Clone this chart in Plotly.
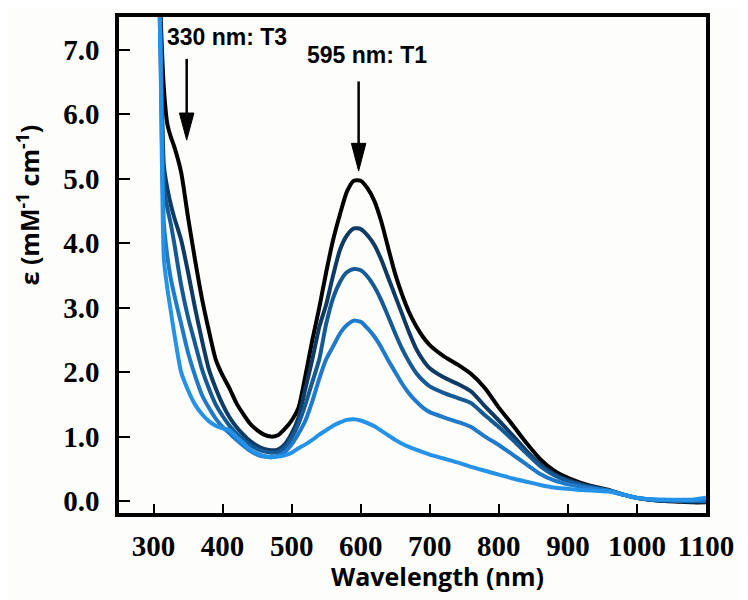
import plotly.graph_objects as go

# ---- data ----
wavelength = [305, 310, 315, 320, 325, 330, 340, 350, 360, 370, 380, 390, 400, 410, 420,
              430, 440, 450, 460, 470, 480, 490, 500, 510, 520, 530, 540, 550, 560, 570,
              580, 590, 600, 610, 620, 630, 640, 650, 660, 670, 680, 690, 700, 720, 740,
              760, 780, 800, 820, 840, 860, 880, 900, 920, 940, 960, 980, 1000, 1020, 1040,
              1060, 1080, 1100]

eps_1 = [9.5, 7.6, 6.4, 5.85, 5.65, 5.5, 5.1, 4.4, 3.75, 3.15, 2.65, 2.2, 1.95, 1.75, 1.52,
         1.35, 1.2, 1.1, 1.03, 1.0, 1.02, 1.12, 1.25, 1.45, 1.95, 2.5, 3.0, 3.55, 4.05, 4.45,
         4.8, 4.97, 4.97, 4.85, 4.65, 4.33, 3.92, 3.52, 3.2, 2.93, 2.72, 2.55, 2.42, 2.25, 2.12,
         1.97, 1.75, 1.45, 1.18, 0.9, 0.65, 0.47, 0.36, 0.28, 0.22, 0.17, 0.1, 0.05, 0.02, 0.0,
         -0.01, -0.02, -0.02]

eps_2 = [9.5, 7.4, 5.2, 4.85, 4.6, 4.4, 4.05, 3.55, 3.0, 2.5, 2.05, 1.75, 1.5, 1.3, 1.15,
         1.03, 0.93, 0.86, 0.81, 0.79, 0.8, 0.88, 1.05, 1.3, 1.75, 2.2, 2.7, 3.05, 3.5, 3.9,
         4.12, 4.23, 4.22, 4.12, 3.97, 3.74, 3.46, 3.18, 2.9, 2.62, 2.37, 2.19, 2.06, 1.92, 1.82,
         1.7, 1.47, 1.25, 1.02, 0.78, 0.57, 0.42, 0.33, 0.26, 0.21, 0.16, 0.1, 0.05, 0.02, 0.0,
         0.0, -0.01, -0.01]

eps_3 = [9.5, 7.2, 4.9, 4.55, 4.3, 4.0, 3.35, 2.85, 2.45, 2.05, 1.75, 1.5, 1.32, 1.17, 1.05,
         0.95, 0.87, 0.81, 0.77, 0.75, 0.76, 0.83, 0.98, 1.2, 1.5, 1.85, 2.2, 2.75, 3.15, 3.4,
         3.55, 3.6, 3.58, 3.48, 3.32, 3.11, 2.86, 2.6, 2.36, 2.16, 1.99, 1.87, 1.78, 1.68, 1.6,
         1.52, 1.33, 1.15, 0.95, 0.74, 0.54, 0.4, 0.31, 0.25, 0.2, 0.16, 0.1, 0.05, 0.02, 0.01,
         0.0, 0.0, 0.0]

eps_4 = [9.5, 7.0, 4.3, 3.8, 3.45, 3.2, 2.75, 2.3, 1.95, 1.65, 1.45, 1.28, 1.15, 1.05, 0.95,
         0.86, 0.78, 0.72, 0.69, 0.68, 0.7, 0.76, 0.88, 1.05, 1.25, 1.55, 1.9, 2.2, 2.4, 2.6,
         2.73, 2.8, 2.78, 2.68, 2.55, 2.38, 2.18, 2.0, 1.82, 1.67, 1.55, 1.45, 1.38, 1.3, 1.23,
         1.15, 1.0, 0.87, 0.72, 0.57, 0.42, 0.32, 0.26, 0.22, 0.19, 0.16, 0.1, 0.05, 0.03, 0.02,
         0.01, 0.01, 0.01]

eps_5 = [9.5, 7.0, 3.75, 3.3, 2.95, 2.6, 2.0, 1.72, 1.5, 1.35, 1.24, 1.17, 1.13, 1.1, 1.0,
         0.9, 0.8, 0.74, 0.7, 0.68, 0.69, 0.71, 0.75, 0.82, 0.88, 0.95, 1.03, 1.1, 1.17, 1.22,
         1.26, 1.27, 1.25, 1.21, 1.16, 1.09, 1.02, 0.95, 0.89, 0.84, 0.8, 0.76, 0.72, 0.66, 0.6,
         0.53, 0.47, 0.41, 0.35, 0.3, 0.25, 0.21, 0.19, 0.17, 0.16, 0.15, 0.1, 0.05, 0.03, 0.02,
         0.02, 0.02, 0.05]

series = [eps_1, eps_2, eps_3, eps_4, eps_5]
colors = ["#000000", "#0e3a63", "#155a95", "#1f7acb", "#2592ea"]

x_ticks = [300, 400, 500, 600, 700, 800, 900, 1000, 1100]
y_ticks = [0, 1, 2, 3, 4, 5, 6, 7]
y_ticktext = ["0.0", "1.0", "2.0", "3.0", "4.0", "5.0", "6.0", "7.0"]

fig = go.Figure()
for ys, c in zip(series, colors):
    fig.add_trace(go.Scatter(x=wavelength, y=ys, mode="lines",
                             line=dict(color=c, width=4, shape="spline", smoothing=0.6),
                             hoverinfo="skip"))

tick_font = dict(family="Liberation Serif", size=29, color="black", weight="bold")
axis_common = dict(showline=True, linecolor="black", linewidth=3.5, mirror=True,
                   ticks="inside", tickcolor="black", tickwidth=2,
                   showgrid=False, zeroline=False, tickfont=tick_font)

fig.update_xaxes(range=[250, 1100], tickvals=x_ticks, ticklen=9,
                 ticklabelstandoff=4, **axis_common)
fig.update_yaxes(range=[-0.185, 7.51], tickvals=y_ticks, ticktext=y_ticktext,
                 ticklen=11, ticklabelstandoff=10, **axis_common)

# arrows (shaft + filled head)
arrow_specs = [(348, 6.86, 6.02, 5.60), (597, 6.51, 5.55, 5.12)]
for ax_, top, base, tip in arrow_specs:
    fig.add_shape(type="line", xref="x", yref="y", x0=ax_, x1=ax_, y0=top, y1=base,
                  line=dict(color="black", width=2.5))
    fig.add_shape(type="path", xref="x", yref="y",
                  path=f"M {ax_-10.5},{base} L {ax_+10.5},{base} L {ax_},{tip} Z",
                  fillcolor="black", line=dict(color="black", width=1))

lab_font = dict(family="Liberation Sans", size=23, color="black", weight="bold")
fig.add_annotation(x=407, y=7.2, xref="x", yref="y", text="330 nm: T3",
                   showarrow=False, font=lab_font)
fig.add_annotation(x=609, y=6.92, xref="x", yref="y", text="595 nm: T1",
                   showarrow=False, font=lab_font)

title_font = dict(family="Open Sans", size=25, color="black", weight="bold")
fig.add_annotation(x=0.542, y=-0.128, xref="paper", yref="paper", text="Wavelength (nm)",
                   showarrow=False, font=title_font, xanchor="center", yanchor="middle")
fig.add_annotation(x=-0.155, y=0.62, xref="paper", yref="paper",
                   text="ε (mM<sup>-1</sup> cm<sup>-1</sup>)", textangle=-90,
                   showarrow=False, font=title_font, xanchor="center", yanchor="middle")

# page body adds an 8px offset, so the figure is 8px smaller and margins shifted
fig.update_layout(width=740, height=592, showlegend=False,
                  margin=dict(l=111, r=42, t=5, b=87),
                  paper_bgcolor="#fdfdfb", plot_bgcolor="#fdfdfb")

fig.write_html("out.html")
